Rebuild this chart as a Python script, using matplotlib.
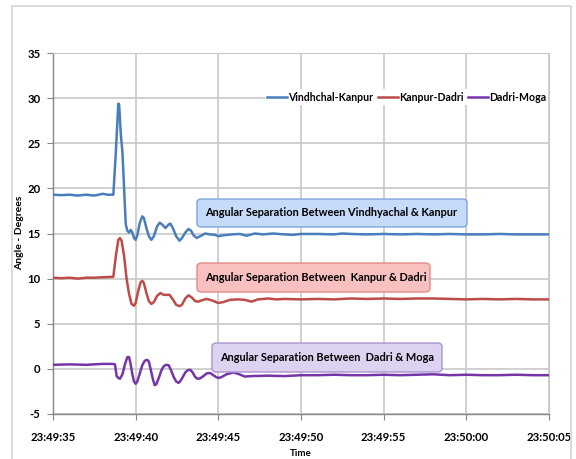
import matplotlib
matplotlib.use("Agg")
import matplotlib.pyplot as plt
from matplotlib.patches import Rectangle, FancyBboxPatch

# ---- data (seconds after 23:49:35) ----
t_blue = [0, 0.5, 1, 1.5, 2, 2.5, 3, 3.3, 3.65, 3.8, 3.95, 4.0, 4.1, 4.2, 4.3, 4.4, 4.5, 4.6,
          4.7, 4.8, 4.9, 5.0, 5.1, 5.25, 5.4, 5.5, 5.65, 5.8, 5.95, 6.1, 6.3, 6.45, 6.6, 6.8,
          7.0, 7.1, 7.25, 7.45, 7.65, 7.8, 8.0, 8.2, 8.35, 8.5, 8.7, 8.9, 9.2, 9.5, 9.8, 10.0,
          10.3, 10.8, 11.3, 11.7, 12.2, 12.7, 13.3, 14, 14.5, 15, 16, 17, 17.5, 18, 19, 20, 21,
          22, 23, 24, 25, 26, 27, 28, 29, 30]
v_blue = [19.3, 19.25, 19.3, 19.2, 19.3, 19.2, 19.4, 19.3, 19.3, 24.0, 29.4, 29.3, 26.0, 24.0,
          20.0, 16.0, 15.3, 15.1, 15.4, 15.1, 14.5, 14.3, 14.8, 16.2, 16.9, 16.7, 15.6, 14.7,
          14.3, 14.7, 15.8, 16.2, 16.0, 15.6, 16.0, 16.1, 15.6, 14.7, 14.2, 14.5, 15.1, 15.5,
          15.3, 14.8, 14.5, 14.7, 15.0, 14.9, 14.85, 14.7, 14.8, 14.9, 14.95, 14.75, 15.0, 14.9,
          15.0, 14.9, 14.85, 14.95, 14.95, 14.9, 15.0, 14.95, 14.9, 14.95, 14.9, 14.95, 14.9,
          14.95, 14.9, 14.9, 14.95, 14.9, 14.9, 14.9]

t_red = [0, 0.5, 1, 1.5, 2, 2.5, 3, 3.65, 3.8, 3.95, 4.05, 4.15, 4.3, 4.45, 4.6, 4.75, 4.9,
         5.0, 5.15, 5.3, 5.4, 5.5, 5.65, 5.8, 5.95, 6.1, 6.3, 6.5, 6.7, 6.9, 7.05, 7.25, 7.45,
         7.65, 7.8, 8.0, 8.2, 8.4, 8.6, 8.8, 9.0, 9.3, 9.6, 10.0, 10.3, 10.7, 11.2, 11.6, 12.0,
         12.4, 13, 13.5, 14, 15, 16, 17, 18, 19, 20, 21, 22, 23, 24, 25, 26, 27, 28, 29, 30]
v_red = [10.1, 10.05, 10.1, 10.0, 10.1, 10.1, 10.15, 10.2, 12.5, 14.3, 14.5, 14.2, 12.5, 10.0,
         8.3, 7.2, 7.0, 7.3, 8.6, 9.6, 9.75, 9.5, 8.4, 7.5, 7.2, 7.4, 8.1, 8.4, 8.2, 8.2, 8.2,
         7.7, 7.1, 6.95, 7.1, 7.8, 8.15, 7.9, 7.5, 7.45, 7.6, 7.75, 7.6, 7.3, 7.4, 7.65, 7.7,
         7.65, 7.45, 7.7, 7.8, 7.7, 7.75, 7.7, 7.75, 7.7, 7.8, 7.75, 7.8, 7.75, 7.8, 7.8, 7.75,
         7.7, 7.75, 7.7, 7.75, 7.7, 7.7]

t_purple = [0, 1, 2, 3, 3.6, 3.75, 3.85, 3.95, 4.05, 4.2, 4.35, 4.5, 4.6, 4.7, 4.8, 4.9, 5.0,
            5.1, 5.25, 5.4, 5.55, 5.7, 5.8, 5.9, 6.05, 6.15, 6.25, 6.4, 6.55, 6.7, 6.85, 7.0,
            7.15, 7.3, 7.45, 7.6, 7.7, 7.85, 8.0, 8.15, 8.3, 8.45, 8.6, 8.75, 8.9, 9.1, 9.3,
            9.5, 9.7, 9.9, 10.05, 10.2, 10.5, 10.9, 11.2, 11.6, 12, 13, 14, 15, 16, 17, 18, 19,
            20, 21, 22, 23, 24, 25, 26, 27, 28, 29, 30]
v_purple = [0.45, 0.5, 0.45, 0.55, 0.55, 0.5, -0.8, -1.0, -1.1, -0.6, 0.5, 1.3, 1.3, 0.5, -0.6,
            -1.4, -1.65, -1.4, -0.5, 0.4, 0.9, 1.0, 0.8, 0.0, -1.2, -1.8, -1.7, -1.0, -0.2, 0.3,
            0.45, 0.4, -0.2, -0.9, -1.4, -1.55, -1.35, -0.9, -0.4, -0.15, -0.1, -0.4, -0.9,
            -1.1, -1.05, -0.8, -0.5, -0.45, -0.7, -0.95, -1.0, -0.9, -0.6, -0.4, -0.55, -0.85,
            -0.8, -0.75, -0.8, -0.7, -0.7, -0.65, -0.7, -0.7, -0.65, -0.7, -0.65, -0.6, -0.7,
            -0.65, -0.7, -0.7, -0.65, -0.7, -0.7]

x_ticks = [0, 5, 10, 15, 20, 25, 30]
x_labels = ["23:49:35", "23:49:40", "23:49:45", "23:49:50", "23:49:55", "23:50:00", "23:50:05"]
y_ticks = [-5, 0, 5, 10, 15, 20, 25, 30, 35]

series_names = ["Vindhchal-Kanpur", "Kanpur-Dadri", "Dadri-Moga"]
box_texts = ["Angular Separation Between Vindhyachal & Kanpur",
             "Angular Separation Between  Kanpur & Dadri",
             "Angular Separation Between  Dadri & Moga"]

colors = ["#4a7ebb", "#be4b48", "#7535a8"]

plt.rcParams['font.family'] = ['Lato', 'DejaVu Sans']
plt.rcParams['axes.unicode_minus'] = False

W, H = 576, 459
fig = plt.figure(figsize=(W / 100, H / 100), dpi=100)
fig.patch.set_facecolor("white")

# outer frame
fig.patches.append(Rectangle((12 / W, -0.05), (571 - 12) / W, 1.05 - 6 / H,
                             transform=fig.transFigure, fill=False,
                             edgecolor="#d4d4d4", linewidth=1.2))

ax = fig.add_axes([53 / W, 1 - 414 / H, (549 - 53) / W, (414 - 53) / H])
ax.set_xlim(0, 30)
ax.set_ylim(-5, 35)

for tt, vv, c, n in zip([t_blue, t_red, t_purple], [v_blue, v_red, v_purple], colors, series_names):
    ax.plot(tt, vv, color=c, lw=1.8, label=n, solid_joinstyle="round", zorder=3)

ax.set_xticks(x_ticks)
ax.set_xticklabels(x_labels)
ax.set_yticks(y_ticks)
ax.grid(True, color="#c8c8c8", lw=1.2)
ax.set_axisbelow(True)
for s in ["top", "right"]:
    ax.spines[s].set_color("#c8c8c8")
for s in ["left", "bottom"]:
    ax.spines[s].set_color("#868686")
    ax.spines[s].set_linewidth(1.0)
ax.tick_params(axis="both", direction="out", length=4, color="#868686", labelsize=8.2, pad=5)
for lab in ax.get_xticklabels() + ax.get_yticklabels():
    lab.set_fontweight("bold")
ax.tick_params(axis="x", pad=9)

fig.text(20 / W, 1 - 233 / H, "Angle - Degrees", rotation=90, ha="center", va="center",
         fontsize=7.5, fontweight="bold")
fig.text(301 / W, 1 - 454 / H, "Time", ha="center", va="center", fontsize=7, fontweight="bold")

leg = ax.legend(loc="center right", bbox_to_anchor=(0.998, 0.878), ncol=3, frameon=True,
                fontsize=7.6, handlelength=1.9, handletextpad=0.1, columnspacing=0.4,
                borderpad=0.2, borderaxespad=0)
leg.get_frame().set_edgecolor("none")
leg.get_frame().set_facecolor("white")
leg.get_frame().set_alpha(1)
for txt in leg.get_texts():
    txt.set_fontweight("bold")

# annotation boxes (pixel coords -> figure coords)
boxes = [((197, 199, 467, 227), "#c6dafa", "#7ea6de"),
         ((197, 263, 430, 292), "#f8c0be", "#e08c8a"),
         ((212, 343, 442, 372), "#ddd2f0", "#a994cf")]
for (x0, y0, x1, y1), fc, ec in boxes:
    p = FancyBboxPatch((x0 / W, 1 - y1 / H), (x1 - x0) / W, (y1 - y0) / H,
                       boxstyle="round,pad=0,rounding_size=0.008",
                       transform=fig.transFigure, facecolor=fc, edgecolor=ec, lw=1.0, zorder=5)
    fig.patches.append(p)
for ((x0, y0, x1, y1), _, _), txt in zip(boxes, box_texts):
    fig.text((x0 + 8) / W, 1 - ((y0 + y1) / 2) / H, txt, ha="left", va="center",
             fontsize=7.9, fontweight="bold", zorder=6)

fig.savefig("out.png", dpi=100)
